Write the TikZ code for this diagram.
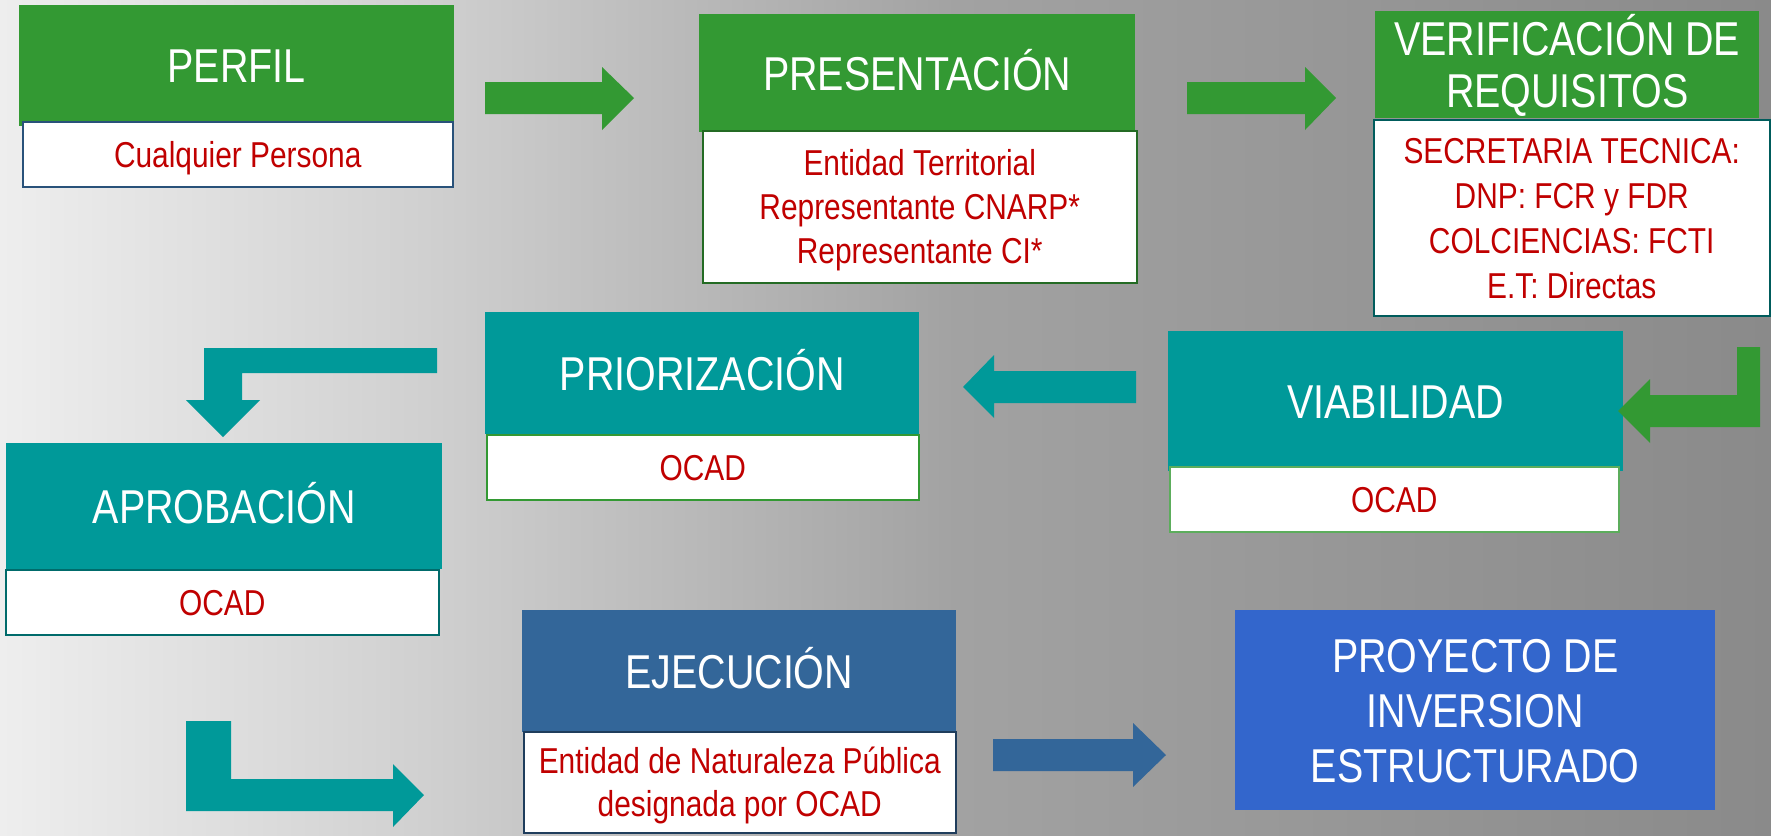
\documentclass[tikz,border=0pt]{standalone}
\usepackage{fontspec}
\setmainfont{Liberation Sans}[FakeStretch=0.83]

\definecolor{grn}{HTML}{339933}
\definecolor{teal}{HTML}{009999}
\definecolor{steel}{HTML}{336699}
\definecolor{royal}{HTML}{3366CC}
\definecolor{txtred}{HTML}{C00000}
\definecolor{bga}{HTML}{EEEEEE}
\definecolor{bgb}{HTML}{D0D0D0}
\definecolor{bgc}{HTML}{A2A2A2}
\definecolor{bgd}{HTML}{8A8A8A}
\pgfdeclarehorizontalshading{bgshade}{100bp}{color(0bp)=(bga); color(25bp)=(bga); color(37bp)=(bgb); color(52bp)=(bgc); color(75bp)=(bgd); color(100bp)=(bgd)}

\tikzset{
  head/.style={anchor=north west, inner sep=0pt, text=white, align=center,
    font=\fontsize{47.5}{52}\selectfont, text height=34pt, text depth=0pt},
  body/.style={anchor=north west, inner sep=0pt, fill=white, line width=1.5pt,
    text=txtred, align=center, font=\fontsize{36}{44}\selectfont,
    text height=26pt, text depth=0pt}
}

\begin{document}
\begin{tikzpicture}[x=1pt,y=-1pt]
\useasboundingbox (0,0) rectangle (1771,835);
% Background
\shade[shading=bgshade] (0,0) rectangle (1771,835);

% Row 1
\node[head, fill=grn, minimum width=435pt, minimum height=121pt] (perfil) at (19,5) {PERFIL};
\node[body, draw=steel!80!black, minimum width=430pt, minimum height=65pt] (perfil-b) at (22,121) {Cualquier Persona};

\node[head, fill=grn, minimum width=436pt, minimum height=118pt] (presentacion) at (699,14) {PRESENTACIÓN};
\node[body, draw=grn!70!black, minimum width=434pt, minimum height=152pt, text height=114pt] (presentacion-b) at (702,130)
  {Entidad Territorial\\Representante CNARP*\\Representante CI*};

\node[head, fill=grn, minimum width=384pt, minimum height=107pt, text height=86pt] (verificacion) at (1375,11)
  {VERIFICACIÓN DE\\REQUISITOS};
\node[body, draw=teal!60!black, minimum width=396pt, minimum height=196pt, font=\fontsize{36}{45}\selectfont, text height=161pt] (verificacion-b) at (1373,119)
  {SECRETARIA TECNICA:\\DNP: FCR y FDR\\COLCIENCIAS: FCTI\\E.T: Directas};

% Row 2
\node[head, fill=teal, minimum width=455pt, minimum height=140pt] (viabilidad) at (1168,331) {VIABILIDAD};
\node[body, draw=grn!80!white, minimum width=449pt, minimum height=65pt] (viabilidad-b) at (1169,466) {OCAD};

\node[head, fill=teal, minimum width=434pt, minimum height=122pt] (priorizacion) at (485,312) {PRIORIZACIÓN};
\node[body, draw=grn, minimum width=432pt, minimum height=65pt] (priorizacion-b) at (486,434) {OCAD};

\node[head, fill=teal, minimum width=436pt, minimum height=126pt] (aprobacion) at (6,443) {APROBACIÓN};
\node[body, draw=teal!70!black, minimum width=433pt, minimum height=65pt] (aprobacion-b) at (5,569) {OCAD};

% Row 3
\node[head, fill=steel, minimum width=434pt, minimum height=122pt] (ejecucion) at (522,610) {EJECUCIÓN};
\node[body, draw=steel!60!black, minimum width=432pt, minimum height=101pt, font=\fontsize{36}{43}\selectfont, text height=69pt] (ejecucion-b) at (523,731)
  {Entidad de Naturaleza Pública\\designada por OCAD};

\node[head, fill=royal, minimum width=480pt, minimum height=200pt, font=\fontsize{47.5}{55}\selectfont, text height=144pt] (proyecto) at (1235,610)
  {PROYECTO DE\\INVERSION\\ESTRUCTURADO};

% Block arrows
\fill[grn] (485,82) -- (602,82) -- (602,67) -- (634,98) -- (602,130) -- (602,114) -- (485,114) -- cycle;
\fill[grn] (1187,82) -- (1305,82) -- (1305,67) -- (1336,98) -- (1305,130) -- (1305,114) -- (1187,114) -- cycle;
\fill[grn] (1737,347) -- (1760,347) -- (1760,427) -- (1650,427) -- (1650,443) -- (1618,411)
  -- (1650,379) -- (1650,395) -- (1737,395) -- cycle;
\fill[teal] (1136,371) -- (994,371) -- (994,355) -- (963,387) -- (994,418) -- (994,403) -- (1136,403) -- cycle;
\fill[teal] (437,348) -- (437,373) -- (242,373) -- (242,400) -- (260,400) -- (223,437) -- (186,400)
  -- (204,400) -- (204,348) -- cycle;
\fill[teal] (186,721) -- (231,721) -- (231,779) -- (393,779) -- (393,764) -- (424,795) -- (393,827)
  -- (393,811) -- (186,811) -- cycle;
\fill[steel] (993,739) -- (1133,739) -- (1133,723) -- (1166,755) -- (1133,787) -- (1133,771) -- (993,771) -- cycle;
\end{tikzpicture}
\end{document}
